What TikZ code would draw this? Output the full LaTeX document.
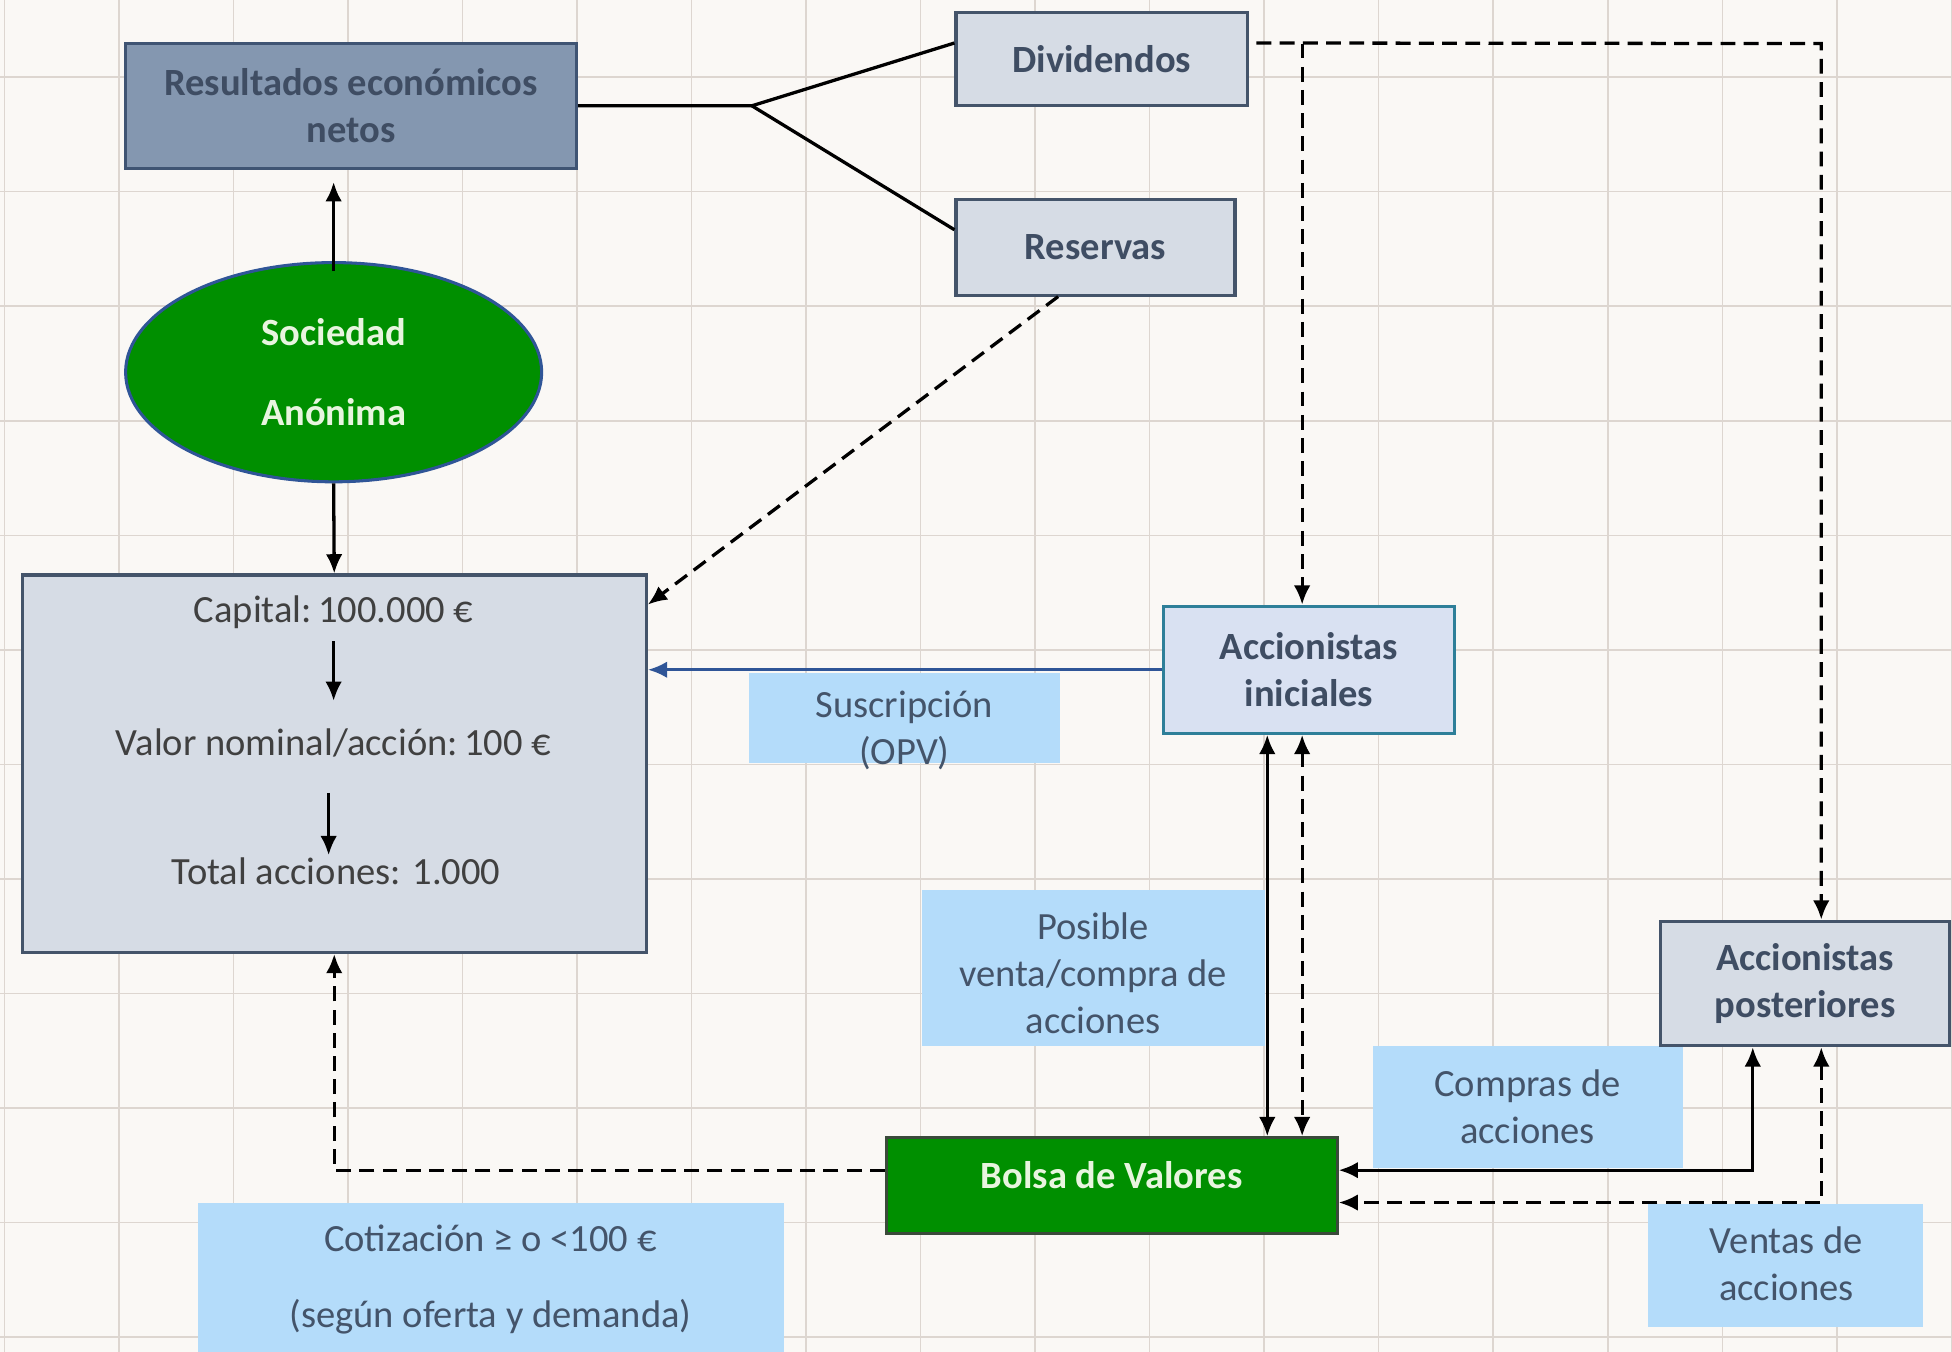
\documentclass[tikz,border=0pt]{standalone}
\usepackage{fontspec}
\setmainfont{Carlito}
\usetikzlibrary{shapes.geometric,arrows.meta,calc}
\definecolor{bgc}{HTML}{FAF8F5}
\definecolor{gridc}{HTML}{DDD6D0}
\definecolor{boxfill}{HTML}{D6DCE5}
\definecolor{boxborder}{HTML}{44546A}
\definecolor{boxtext}{HTML}{3F4D63}
\definecolor{resfill}{HTML}{8497B0}
\definecolor{resborder}{HTML}{3F5473}
\definecolor{inifill}{HTML}{D9E1F2}
\definecolor{iniborder}{HTML}{2E7F99}
\definecolor{greenc}{HTML}{008F00}
\definecolor{greentext}{HTML}{E8F5DF}
\definecolor{ellborder}{HTML}{2F5597}
\definecolor{lblfill}{HTML}{B4DCFA}
\definecolor{lbltext}{HTML}{44546A}
\definecolor{captext}{HTML}{404040}
\definecolor{bluearr}{HTML}{2F5597}
\definecolor{bolsaborder}{HTML}{3A4A3A}
\begin{document}
\begin{tikzpicture}[x=0.01cm,y=-0.01cm,
  >={Latex[length=4.4pt,width=3.8pt]},
  txt/.style={font=\fontsize{8.8}{10.7}\selectfont},
  box/.style={txt,draw=boxborder,line width=0.7pt,fill=boxfill,text=boxtext,font=\fontsize{8.8}{10.7}\selectfont\bfseries,align=center,inner sep=0pt},
  lblbox/.style={fill=lblfill,inner sep=0pt},
  lbltxt/.style={txt,text=lbltext,align=center,inner sep=0pt},
  captxt/.style={txt,text=captext,inner sep=0pt},
  ln/.style={draw=black,line width=0.75pt},
  dsh/.style={dash pattern=on 3.4pt off 1.9pt}]
\useasboundingbox (0,0) rectangle (1568,1086);
\fill[bgc] (0,0) rectangle (1568,1086);
\foreach \gx in {3.5,95.5,...,1567.5} \draw[gridc,line width=0.35pt] (\gx,0) -- (\gx,1086);
\foreach \gy in {62,154,...,1074} \draw[gridc,line width=0.35pt] (0,\gy) -- (1568,\gy);

% label boxes
\node[lblbox,minimum width=2.49cm,minimum height=0.72cm] (lsusb) at (726.5,577) {};
\node[lblbox,minimum width=2.75cm,minimum height=1.25cm] (lposb) at (878.5,777.5) {};
\node[lblbox,minimum width=2.49cm,minimum height=0.98cm] (lcompb) at (1227.5,889) {};
\node[lblbox,minimum width=2.21cm,minimum height=0.99cm] (lventb) at (1434.5,1016.5) {};
\node[lblbox,minimum width=4.71cm,minimum height=1.20cm] (lcotb) at (394.5,1026) {};
\node[lbltxt] (lsus) at (726.5,586.5) {Suscripción\\(OPV)};
\node[lbltxt] (lpos) at (878,782) {Posible\\venta/compra de\\acciones};
\node[lbltxt] (lcomp) at (1227,889) {Compras de\\acciones};
\node[lbltxt] (lvent) at (1435,1015) {Ventas de\\acciones};
\node[lbltxt] (lcot) at (394,1027.5) {Cotización ≥ o <100 €\\[6.7pt](según oferta y demanda)};

% main boxes
\node[box,fill=resfill,draw=resborder,minimum width=3.62cm,minimum height=1.00cm] (res) at (282,85) {Resultados económicos\\netos};
\node[box,minimum width=2.34cm,minimum height=0.75cm] (div) at (885,47.5) {Dividendos};
\node[box,minimum width=2.24cm,minimum height=0.77cm] (resv) at (880,198.5) {Reservas};
\node[ellipse,draw=ellborder,line width=0.7pt,fill=greenc,text=greentext,font=\fontsize{8.8}{10.7}\selectfont\bfseries,align=center,inner sep=0pt,minimum width=3.34cm,minimum height=1.76cm] (sa) at (268,299) {Sociedad\\[7.5pt]Anónima};
\node[box,minimum width=5.01cm,minimum height=3.03cm] (cap) at (268.5,613.5) {};
\node[captxt] (c1) at (268,492) {Capital:\,100.000 €};
\node[captxt] (c2) at (268,597) {Valor nominal/acción:\,100 €};
\node[captxt] (c3) at (270,700) {Total acciones: 1.000};
\node[box,fill=inifill,draw=iniborder,minimum width=2.33cm,minimum height=1.02cm] (ini) at (1051.5,538) {Accionistas\\iniciales};
\node[box,minimum width=2.32cm,minimum height=1.00cm] (post) at (1450,790) {Accionistas\\posteriores};
\node[box,fill=greenc,draw=bolsaborder,text=greentext,minimum width=3.62cm,minimum height=0.77cm,text depth=0.17cm] (bolsa) at (893,952.5) {Bolsa de Valores};

% connectors
\coordinate (j) at (604,85);
\draw[ln] (res.east) -- (j) -- ($(div.north west)!0.333!(div.south west)$);
\draw[ln] (j) -- ($(resv.north west)!0.325!(resv.south west)$);
\draw[ln,->] ([yshift=-0.08cm]sa.north) -- ([yshift=-0.1cm]sa.north |- res.south);
\draw[ln,->] (sa.south) -- (cap.north);
\draw[ln,->] ($(c1)+(0,23)$) -- ($(c2)+(0,-34)$);
\draw[ln,->] ($(c2)+(-4,40)$) -- ($(c3)+(-6,-13)$);
\draw[ln,dsh,->] ([xshift=-0.3cm]resv.south) -- ([yshift=-0.25cm]cap.north east);
\draw[line width=0.75pt,color=bluearr,->] (ini.west) -- (ini.west -| cap.east);
\coordinate (d0) at ($(div.north east)!0.333!(div.south east)+(6,0)$);
\coordinate (d1) at (1046,35);
\coordinate (d2) at (1463,35);
\draw[ln,dsh,->] (d0) -- (d2) -- (d2 |- post.north);
\draw[ln,dsh,->] (d1) -- (d1 |- ini.north);
\draw[ln,<->] ([xshift=-0.335cm]ini.south) -- ([xshift=-0.335cm]ini.south |- bolsa.north);
\draw[ln,dsh,<->] (d1 |- ini.south) -- (d1 |- bolsa.north);
\draw[ln,<->] ([xshift=-0.42cm]post.south) |- ($(bolsa.east)+(0,-12.5)$);
\draw[ln,dsh,<->] (d2 |- post.south) |- ($(bolsa.east)+(0,13.5)$);
\draw[ln,dsh,->] ($(bolsa.west)+(0,-12.5)$) -| (cap.south);
\end{tikzpicture}
\end{document}
